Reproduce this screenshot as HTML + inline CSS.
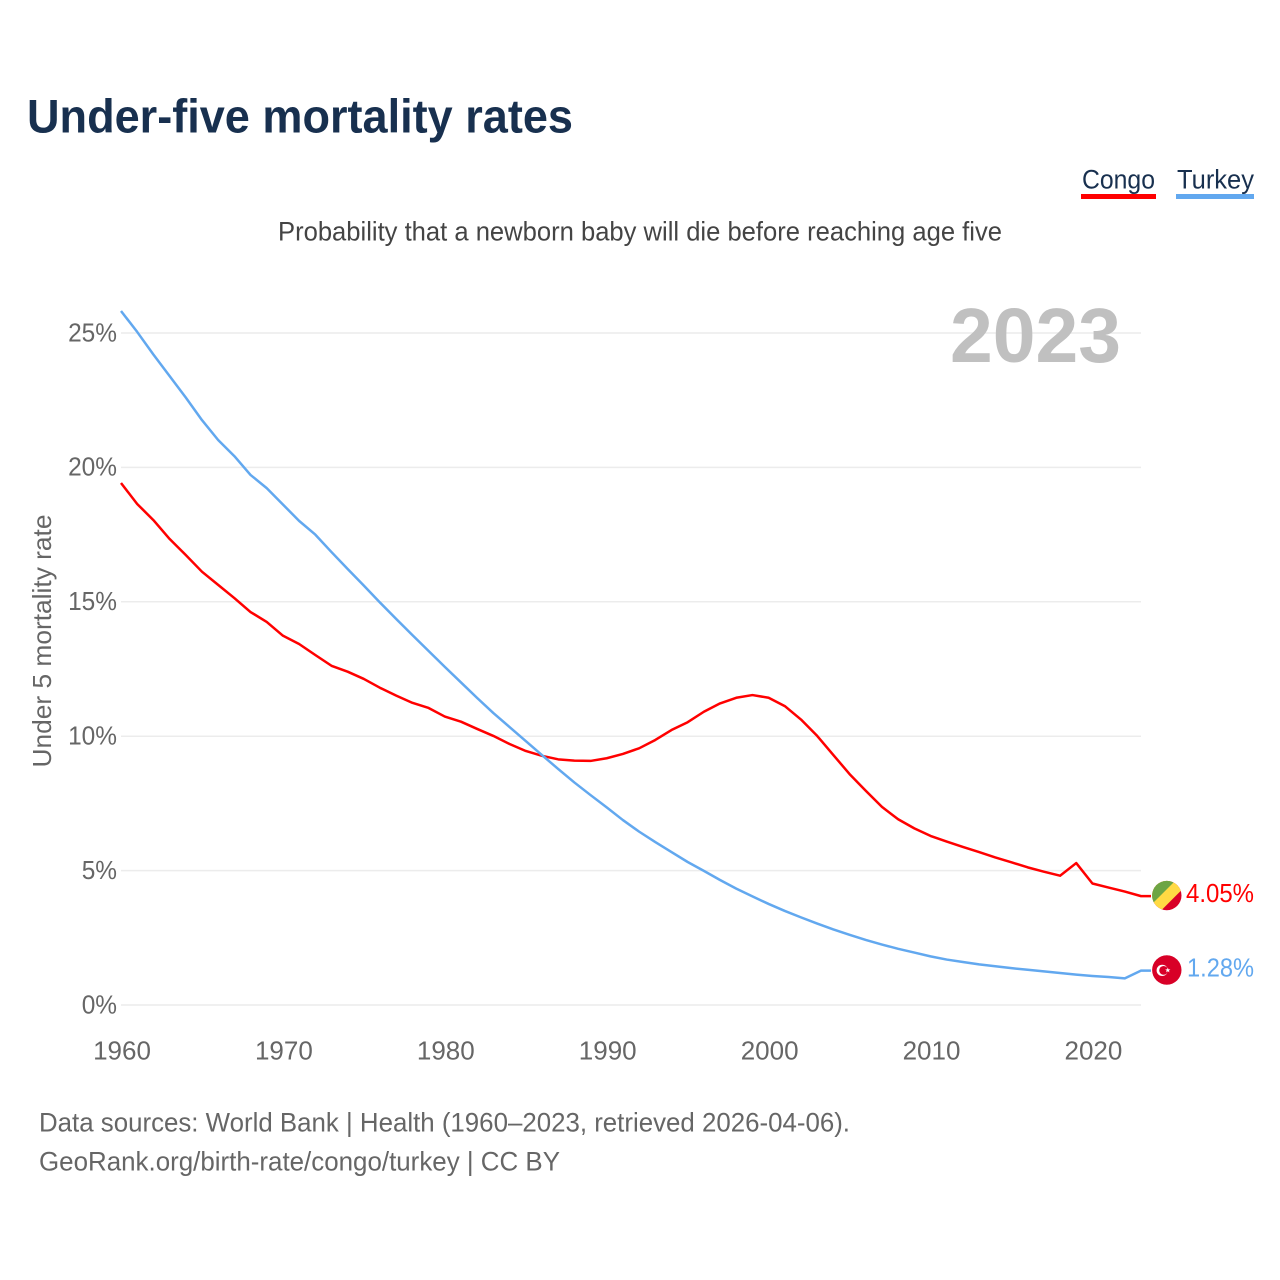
<!DOCTYPE html>
<html lang="en">
<head>
<meta charset="utf-8">
<title>Under-five mortality rates</title>
<style>
html,body{margin:0;padding:0;background:#fff;}
svg{display:block;font-family:"Liberation Sans",sans-serif;}
</style>
</head>
<body>
<svg id="chart" xmlns="http://www.w3.org/2000/svg" width="1280" height="1280" viewBox="0 0 1280 1280">
  <defs>
    <clipPath id="flag-clip-congo"><circle id="clip-congo" r="14.7"/></clipPath>
    <clipPath id="flag-clip-turkey"><circle id="clip-turkey" r="14.7"/></clipPath>
  </defs>
  <text x="27" y="132.5" font-size="47" font-weight="700" fill="#18304f" textLength="546" lengthAdjust="spacingAndGlyphs">Under-five mortality rates</text>
  <g>
    <g>
      <text x="1082" y="188.5" font-size="27" fill="#18304f" textLength="73" lengthAdjust="spacingAndGlyphs">Congo</text>
      <rect x="1081" y="194" width="75" height="5" fill="#ff0000"/>
    </g>
    <g>
      <text x="1177" y="188.5" font-size="27" fill="#18304f" textLength="77" lengthAdjust="spacingAndGlyphs">Turkey</text>
      <rect x="1176" y="194" width="78" height="5" fill="#62a8ef"/>
    </g>
  </g>
  <text x="278" y="240.5" font-size="27" fill="#444444" textLength="724" lengthAdjust="spacingAndGlyphs">Probability that a newborn baby will die before reaching age five</text>
  <g id="grid"></g>
  <g id="y-ticks"></g>
  <g id="x-ticks"></g>
  <text x="950" y="362" font-size="77" font-weight="700" fill="#c0c0c0" textLength="171" lengthAdjust="spacingAndGlyphs">2023</text>
  <text transform="translate(51,767.5) rotate(-90)" font-size="26" fill="#666666" textLength="253" lengthAdjust="spacingAndGlyphs">Under 5 mortality rate</text>
  <g id="lines"></g>
  <g id="flag-congo" clip-path="url(#flag-clip-congo)">
    <circle r="15" fill="#d80027"/>
    <polygon points="-20,29.3 29.3,-20 -20,-20" fill="#ffda44"/>
    <polygon points="-20,13.7 13.7,-20 -20,-20" fill="#6da544"/>
  </g>
  <g id="flag-turkey" clip-path="url(#flag-clip-turkey)">
    <circle r="15" fill="#d80027"/>
    <circle cx="-4.6" cy="0.4" r="5.6" fill="#ffffff"/>
    <circle cx="-3.2" cy="0.4" r="4.4" fill="#d80027"/>
    <polygon points="1,-2.4 1.7,-0.6 3.6,-0.6 2.1,0.6 2.7,2.4 1,1.3 -0.7,2.4 -0.1,0.6 -1.6,-0.6 0.3,-0.6" fill="#ffffff"/>
  </g>
  <text id="value-congo" font-size="26" fill="#ff0000" text-anchor="end" x="1254"></text>
  <text id="value-turkey" font-size="26" fill="#62a8ef" text-anchor="end" x="1254"></text>
  <text x="39" y="1131.5" font-size="27" fill="#666666" textLength="811" lengthAdjust="spacingAndGlyphs">Data sources: World Bank | Health (1960–2023, retrieved 2026-04-06).</text>
  <text x="39" y="1170.5" font-size="27" fill="#666666" textLength="521" lengthAdjust="spacingAndGlyphs">GeoRank.org/birth-rate/congo/turkey | CC BY</text>
</svg>
<script>
const startYear = 1960;
const endYear = 2023;
const congoValues = [19.42,18.64,18.04,17.34,16.74,16.12,15.63,15.14,14.62,14.25,13.74,13.43,13.02,12.62,12.40,12.13,11.80,11.51,11.24,11.05,10.73,10.54,10.27,10.01,9.71,9.45,9.27,9.14,9.09,9.08,9.18,9.34,9.55,9.86,10.23,10.52,10.91,11.22,11.43,11.53,11.43,11.12,10.62,10.01,9.30,8.59,7.97,7.37,6.91,6.57,6.29,6.08,5.88,5.69,5.49,5.31,5.12,4.96,4.81,5.28,4.52,4.37,4.22,4.05];
const turkeyValues = [25.82,25.04,24.20,23.40,22.60,21.76,21.02,20.42,19.72,19.23,18.62,18.01,17.50,16.85,16.22,15.60,14.97,14.36,13.76,13.17,12.58,12.00,11.42,10.86,10.34,9.82,9.30,8.78,8.28,7.81,7.35,6.88,6.45,6.06,5.69,5.32,4.99,4.65,4.33,4.04,3.76,3.50,3.26,3.03,2.81,2.61,2.42,2.25,2.09,1.95,1.81,1.69,1.60,1.51,1.44,1.37,1.31,1.25,1.19,1.13,1.08,1.04,0.99,1.28];
const yTickValues = [0,5,10,15,20,25];
const xTickValues = [1960,1970,1980,1990,2000,2010,2020];

const NS = 'http://www.w3.org/2000/svg';
function xScale(year){ return 121 + (year - startYear) * (1141 - 121) / (endYear - startYear); }
function yScale(v){ return 1005 - v * 26.88; }

const grid = document.getElementById('grid');
const yTicks = document.getElementById('y-ticks');
const xTicks = document.getElementById('x-ticks');
const lines = document.getElementById('lines');

yTickValues.forEach(function(v){
  const line = document.createElementNS(NS, 'line');
  
  
  line.setAttribute('x1', 121);
  line.setAttribute('x2', 1141);
  line.setAttribute('y1', yScale(v));
  line.setAttribute('y2', yScale(v));
  line.setAttribute('stroke', '#ececec');
  line.setAttribute('stroke-width', 1.5);
  grid.appendChild(line);

  const label = document.createElementNS(NS, 'text');
  
  
  label.setAttribute('x', 117);
  label.setAttribute('y', yScale(v) + 8.3);
  label.setAttribute('font-size', 26);
  label.setAttribute('fill', '#666666');
  label.setAttribute('text-anchor', 'end');
  label.textContent = v + '%';
  yTicks.appendChild(label);
  label.setAttribute('textLength', (label.getComputedTextLength() * 0.94).toFixed(1));
  label.setAttribute('lengthAdjust', 'spacingAndGlyphs');
});

xTickValues.forEach(function(year){
  const label = document.createElementNS(NS, 'text');
  
  
  label.setAttribute('x', xScale(year) + 1);
  label.setAttribute('y', 1059.5);
  label.setAttribute('font-size', 26);
  label.setAttribute('fill', '#666666');
  label.setAttribute('text-anchor', 'middle');
  label.textContent = String(year);
  xTicks.appendChild(label);
});

function drawSeries(values, color, name){
  const pts = values.map(function(v, i){ return xScale(startYear + i).toFixed(2) + ',' + yScale(v).toFixed(2); });
  const last = values[values.length - 1];
  pts.push((xScale(endYear) + 10).toFixed(2) + ',' + yScale(last).toFixed(2));
  const line = document.createElementNS(NS, 'polyline');
  
  
  line.setAttribute('points', pts.join(' '));
  line.setAttribute('fill', 'none');
  line.setAttribute('stroke', color);
  line.setAttribute('stroke-width', 2.5);
  line.setAttribute('stroke-linejoin', 'round');
  lines.appendChild(line);
}
drawSeries(congoValues, '#ff0000', 'congo-line');
drawSeries(turkeyValues, '#62a8ef', 'turkey-line');

function placeEnd(values, flagId, clipId, labelId, width){
  const v = values[values.length - 1];
  const y = yScale(v);
  const flag = document.getElementById(flagId);
  const clip = document.getElementById(clipId);
  const label = document.getElementById(labelId);
  flag.setAttribute('transform', 'translate(1166.8,' + (y - 0.6).toFixed(2) + ')');
  clip.setAttribute('r', 14.7);
  label.setAttribute('y', (y + 6).toFixed(2));
  label.setAttribute('textLength', width);
  label.setAttribute('lengthAdjust', 'spacingAndGlyphs');
  label.textContent = v.toFixed(2) + '%';
}
placeEnd(congoValues, 'flag-congo', 'clip-congo', 'value-congo', 68);
placeEnd(turkeyValues, 'flag-turkey', 'clip-turkey', 'value-turkey', 67);
</script>
</body>
</html>
